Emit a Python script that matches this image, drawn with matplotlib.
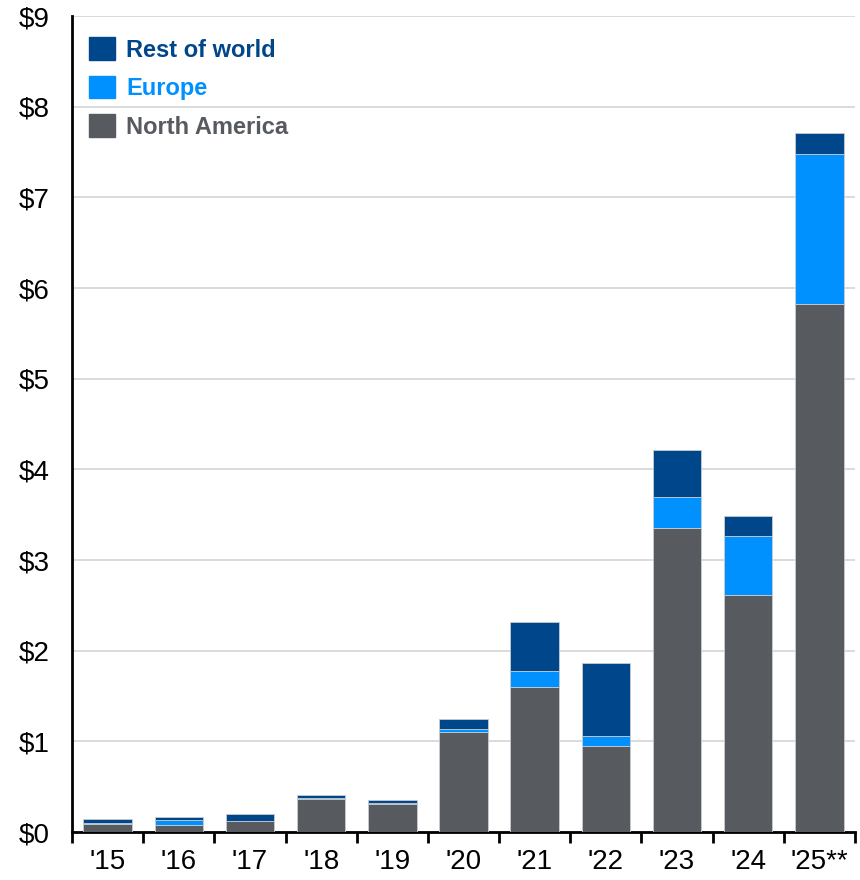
import matplotlib
matplotlib.use("Agg")
import matplotlib.pyplot as plt
from matplotlib.patches import Patch
import numpy as np

plt.rcParams['font.family'] = ['Liberation Sans', 'DejaVu Sans']

years = ["'15", "'16", "'17", "'18", "'19", "'20", "'21", "'22", "'23", "'24", "'25**"]
north_america = [0.085, 0.08, 0.12, 0.36, 0.31, 1.105, 1.60, 0.95, 3.35, 2.61, 5.82]
europe = [0.015, 0.05, 0.005, 0.01, 0.01, 0.035, 0.18, 0.11, 0.34, 0.66, 1.655]
rest_of_world = [0.04, 0.03, 0.07, 0.04, 0.03, 0.11, 0.54, 0.80, 0.52, 0.21, 0.235]
yticks = [0, 1, 2, 3, 4, 5, 6, 7, 8, 9]
ytick_labels = ["$0", "$1", "$2", "$3", "$4", "$5", "$6", "$7", "$8", "$9"]

c_na = "#575B5F"
c_eu = "#0091FF"
c_row = "#00468B"

fig = plt.figure(figsize=(8.6, 8.8), dpi=100)
ax = fig.add_axes([72/860, 1 - 832/880, (855-72)/860, (832-16)/880])

x = np.arange(len(years))
w = 0.68
na = np.array(north_america)
eu = np.array(europe)
rw = np.array(rest_of_world)
ec = "#c8ccd0"
ax.bar(x, na, w, color=c_na, edgecolor=ec, linewidth=0.6, zorder=3)
ax.bar(x, eu, w, bottom=na, color=c_eu, edgecolor=ec, linewidth=0.6, zorder=3)
ax.bar(x, rw, w, bottom=na + eu, color=c_row, edgecolor=ec, linewidth=0.6, zorder=3)

ax.set_xlim(-0.5, len(years) - 0.5)
ax.set_ylim(0, 9)
ax.set_yticks(yticks)
ax.set_yticklabels(ytick_labels, fontsize=20)
ax.yaxis.grid(True, color="#d4d4d4", linewidth=1.2, zorder=0)
ax.set_axisbelow(True)
ax.tick_params(axis='y', length=0, pad=16)

ax.set_xticks(x)
ax.set_xticklabels(years, fontsize=20)
ax.set_xticks(np.arange(-0.5, len(years) + 0.5, 1.0), minor=True)
ax.tick_params(axis='x', which='major', length=0, pad=12)
ax.tick_params(axis='x', which='minor', length=8, width=2, direction='out', color='black')

for s in ['top', 'right']:
    ax.spines[s].set_visible(False)
ax.spines['left'].set_linewidth(2)
ax.spines['bottom'].set_linewidth(2)

handles = [Patch(color=c_row), Patch(color=c_eu), Patch(color=c_na)]
labels = ["Rest of world", "Europe", "North America"]
leg = ax.legend(handles, labels, loc='upper left', bbox_to_anchor=(-0.005, 1.0),
                frameon=False, fontsize=17, handlelength=1.1, handleheight=1.1,
                handletextpad=0.45, labelspacing=0.6, borderaxespad=0.5)
for t, c in zip(leg.get_texts(), [c_row, c_eu, c_na]):
    t.set_color(c)
    t.set_fontweight('bold')

fig.savefig("out.png", dpi=100)
